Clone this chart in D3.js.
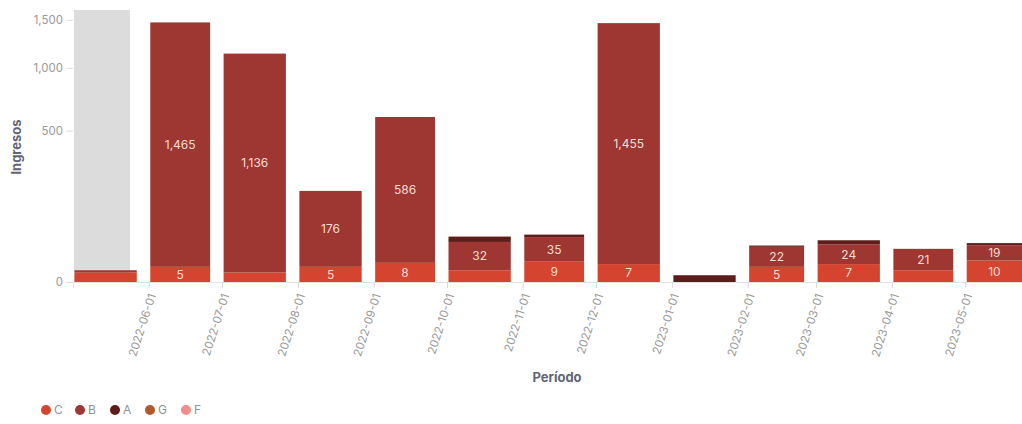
<!DOCTYPE html>
<html>
<head>
<meta charset="utf-8">
<script src="https://cdn.jsdelivr.net/npm/d3@7"></script>
<style>
  body { margin: 0; background: #fff; }
  text { font-family: Inter, "Open Sans", sans-serif; }
</style>
</head>
<body>
<div id="chart"></div>
<script>
// months (bar start dates)
var months = ["2022-05-01", "2022-06-01", "2022-07-01", "2022-08-01", "2022-09-01", "2022-10-01",
    "2022-11-01", "2022-12-01", "2023-01-01", "2023-02-01", "2023-03-01", "2023-04-01", "2023-05-01"];
// series values, stacked bottom to top: C, B, A
var serieC = [2, 5, 2, 5, 8, 3, 9, 7, 0, 5, 7, 3, 10];
var serieB = [1, 1465, 1136, 176, 586, 32, 35, 1455, 0, 22, 24, 21, 19];
var serieA = [0, 0, 0, 0, 0, 10, 5, 0, 1, 2, 7, 0, 4];
var serieG = [0, 0, 0, 0, 0, 0, 0, 0, 0, 0, 0, 0, 0];
var serieF = [0, 0, 0, 0, 0, 0, 0, 0, 0, 0, 0, 0, 0];
var legendNames = ["C", "B", "A", "G", "F"];
var legendColors = ["#d4442f", "#9e3731", "#5e1d1a", "#b2592b", "#f28d8d"];
var yTicks = [0, 500, 1000, 1500];
var xTickMonths = months.slice(1);

var width = 1022, height = 424;
var svg = d3.select("#chart").append("svg")
    .attr("width", width).attr("height", height);

var parse = d3.timeParse("%Y-%m-%d");
var data = months.map(function (m, i) {
    return {date: parse(m), C: serieC[i], B: serieB[i], A: serieA[i], G: serieG[i], F: serieF[i]};
});

var x = d3.scaleTime()
    .domain([parse("2022-05-01"), parse("2023-06-01")])
    .range([73, 1041]);
var y = d3.scaleSqrt()
    .domain([0, 1614])
    .range([282, 10]);

var color = d3.scaleOrdinal().domain(legendNames).range(legendColors);

// hover highlight on the first bar
svg.append("rect")
    .attr("x", x(data[0].date) + 1)
    .attr("y", y(1614))
    .attr("width", 56)
    .attr("height", y(0) - y(1614))
    .attr("fill", "#dcdcdc");

var stack = d3.stack().keys(["C", "B", "A", "G", "F"]);
var series = stack(data);

var nextMonth = function (d) { return d3.timeMonth.offset(d, 1); };

svg.append("g").selectAll("g")
    .data(series)
    .enter().append("g")
    .attr("fill", function (d) { return color(d.key); })
    .selectAll("rect")
    .data(function (d) { return d.filter(function (p) { return p[1] - p[0] > 0; }); })
    .enter().append("rect")
    .attr("x", function (d) { return x(d.data.date) + 1.5; })
    .attr("width", function (d) { return x(nextMonth(d.data.date)) - 12 - x(d.data.date) - 1.5; })
    .attr("y", function (d) { return y(d[1]); })
    .attr("height", function (d) { return y(d[0]) - y(d[1]); });

// value labels inside segments
var labels = [];
series.forEach(function (s) {
    s.forEach(function (p) {
        var h = y(p[0]) - y(p[1]);
        if (h >= 13) labels.push({p: p, v: p[1] - p[0]});
    });
});
svg.append("g").selectAll("text")
    .data(labels)
    .enter().append("text")
    .attr("x", function (d) {
        var x0 = x(d.p.data.date) + 1.5, x1 = Math.min(x(nextMonth(d.p.data.date)) - 12, width);
        return (x0 + x1) / 2;
    })
    .attr("y", function (d) { return (y(d.p[0]) + y(d.p[1])) / 2; })
    .attr("dy", "0.36em")
    .attr("text-anchor", "middle")
    .attr("fill", "#f7dcd5")
    .style("font-size", "12px")
    .text(function (d) { return d3.format(",")(d.v); });

// y axis
var yAxis = svg.append("g")
    .attr("transform", "translate(73,0)")
    .call(d3.axisLeft(y).tickValues(yTicks).tickSize(6).tickPadding(4).tickFormat(d3.format(",")));
yAxis.select(".domain").remove();
yAxis.selectAll("line").attr("stroke", "#d8d8d8");
yAxis.selectAll("text").attr("fill", "#9a9a9a").style("font-size", "11.5px");

// x axis
var xAxis = svg.append("g")
    .attr("transform", "translate(0,282)")
    .call(d3.axisBottom(x).tickValues(xTickMonths.map(parse)).tickSize(6)
        .tickFormat(d3.timeFormat("%Y-%m-%d")));
xAxis.select(".domain").attr("stroke", "#e2e2e2");
xAxis.selectAll("line").attr("stroke", "#d8d8d8");
xAxis.selectAll("text")
    .attr("x", 0).attr("y", 0).attr("dy", "0.35em")
    .attr("text-anchor", "end")
    .attr("transform", "translate(3,12) rotate(-72)")
    .attr("fill", "#9a9a9a")
    .style("font-size", "11.5px");

// axis titles
svg.append("text")
    .attr("transform", "translate(21,147) rotate(-90)")
    .attr("text-anchor", "middle")
    .attr("fill", "#5f6673")
    .style("font-size", "13px")
    .style("font-weight", "bold")
    .text("Ingresos");
svg.append("text")
    .attr("x", 557).attr("y", 382)
    .attr("text-anchor", "middle")
    .attr("fill", "#5f6673")
    .style("font-size", "13px")
    .style("font-weight", "bold")
    .text("Período");

// legend
var legendX = [46, 80, 115, 150, 186];
var legend = svg.append("g").selectAll("g")
    .data(legendNames)
    .enter().append("g")
    .attr("transform", function (d, i) { return "translate(" + legendX[i] + ",410)"; });
legend.append("circle").attr("r", 5).attr("fill", function (d) { return color(d); });
legend.append("text")
    .attr("x", 8).attr("dy", "0.36em")
    .attr("fill", "#8e939b")
    .style("font-size", "12px")
    .text(function (d) { return d; });
</script>
</body>
</html>
